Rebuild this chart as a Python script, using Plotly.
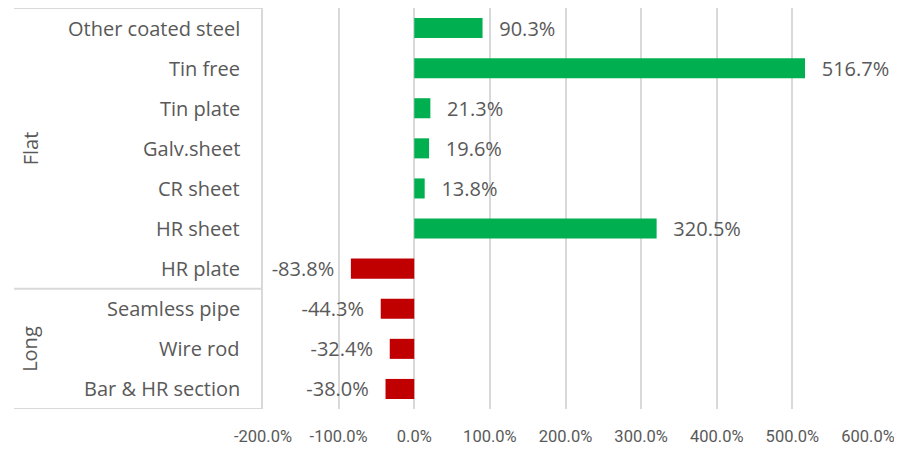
import plotly.graph_objects as go

categories = ["Bar & HR section", "Wire rod", "Seamless pipe", "HR plate", "HR sheet",
              "CR sheet", "Galv.sheet", "Tin plate", "Tin free", "Other coated steel"]
values = [-38.0, -32.4, -44.3, -83.8, 320.5, 13.8, 19.6, 21.3, 516.7, 90.3]
groups = [("Long", 0, 2), ("Flat", 3, 9)]
tick_vals = [-200, -100, 0, 100, 200, 300, 400, 500, 600]
tick_text = [f"{v:.1f}%" for v in tick_vals]

colors = ["#00B050" if v >= 0 else "#C00000" for v in values]
PAD = "\u00a0\u00a0\u2009"
labels = [(PAD + f"{v:.1f}%") if v >= 0 else (f"{v:.1f}%" + PAD) for v in values]

FONT = "Open Sans"
GREY = "#595959"

fig = go.Figure(go.Bar(
    x=values, y=categories, orientation="h",
    marker=dict(color=colors, line=dict(width=0)),
    text=labels, textposition="outside", cliponaxis=False, constraintext="none",
    textfont=dict(family=FONT, size=20, color=GREY),
    width=0.5,
))

# page body has an 8px margin, so the figure is drawn at (8, 8)
OFF = 8
W, H = 902 - OFF, 452 - OFF
L, R, T, B = 263 - OFF, 902 - 868, 8 - OFF, 452 - 409
pw = W - L - R

fig.update_layout(
    width=W, height=H,
    margin=dict(l=L, r=R, t=T, b=B, pad=0),
    plot_bgcolor="white", paper_bgcolor="white",
    showlegend=False,
    font=dict(family=FONT, color=GREY),
    xaxis=dict(range=[-200, 600], tickvals=tick_vals, ticktext=tick_text,
               showgrid=True, gridcolor="#D9D9D9", gridwidth=2,
               zeroline=False, showline=False, tickangle=0,
               tickfont=dict(family="Roboto", size=16.5, color=GREY),
               ticks="outside", ticklen=12, tickcolor="rgba(0,0,0,0)", automargin=False),
    yaxis=dict(type="category", categoryorder="array", categoryarray=categories,
               range=[-0.5, len(categories) - 0.5],
               showticklabels=False, showgrid=False, zeroline=False,
               showline=True, linecolor="#D9D9D9", linewidth=2, automargin=False),
)

def px(xabs):
    return (xabs - OFF - L) / pw

for c in categories:
    fig.add_annotation(x=px(242), y=c, xref="paper", yref="y", text=c,
                       showarrow=False, xanchor="right", yanchor="middle",
                       font=dict(family=FONT, size=20, color=GREY))

seps = [-0.5, 2.5, len(categories) - 0.5]
for s in seps:
    fig.add_shape(type="line", xref="paper", yref="y", x0=px(14), x1=0, y0=s, y1=s,
                  line=dict(color="#D9D9D9", width=2))

for name, a, b in groups:
    fig.add_annotation(x=px(30), y=(a + b) / 2, xref="paper", yref="y", text=name,
                       showarrow=False, textangle=-90, xanchor="center", yanchor="middle",
                       font=dict(family=FONT, size=20, color=GREY))

fig.write_html("out.html")
